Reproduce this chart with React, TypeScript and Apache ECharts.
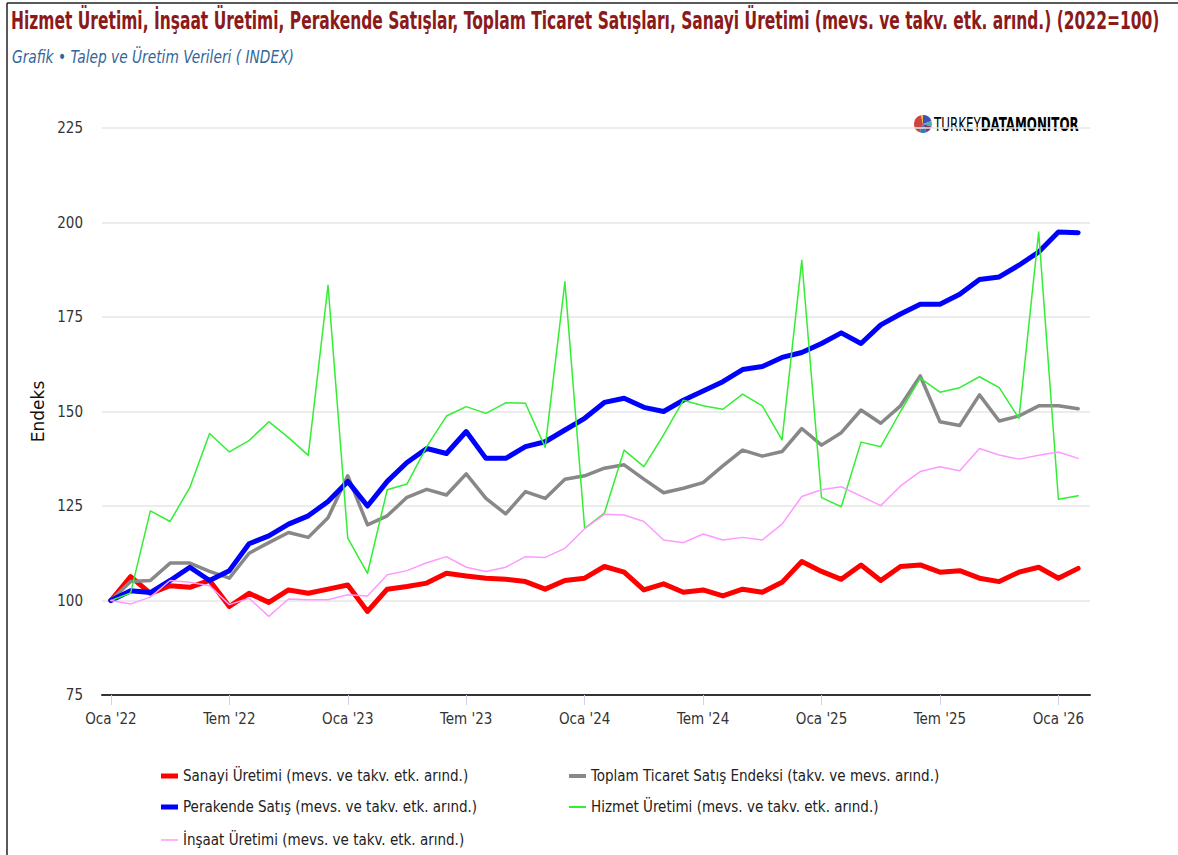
import React, { useEffect, useRef } from "react";
import * as echarts from "echarts";

const months: string[] = [];
const monthNames = ["Oca", "Şub", "Mar", "Nis", "May", "Haz", "Tem", "Ağu", "Eyl", "Eki", "Kas", "Ara"];
const years = ["22", "23", "24", "25", "26"];
years.forEach((y) => monthNames.forEach((m) => months.push(`${m} '${y}`)));
const categories = months.slice(0, 50);

const tickIndices = [0, 6, 12, 18, 24, 30, 36, 42, 48];

const sanayi = [100, 106.3, 101.9, 103.9, 103.5, 105.3, 98.4, 101.9, 99.5, 102.8, 101.9, 103, 104.1, 97.1, 103, 103.7, 104.6, 107.2, 106.5, 105.9, 105.6, 105, 103, 105.3, 105.9, 109, 107.5, 102.8, 104.4, 102.2, 102.8, 101.2, 103, 102.2, 104.8, 110.3, 107.7, 105.6, 109.4, 105.3, 109, 109.4, 107.5, 107.9, 105.9, 105, 107.5, 108.8, 105.9, 108.5];
const toplam = [100, 105, 105.3, 109.9, 109.9, 107.7, 105.9, 112.5, 115.3, 118, 116.7, 121.9, 133, 120, 122.4, 127.3, 129.4, 127.9, 133.5, 127, 122.9, 128.8, 127, 132.1, 133, 135, 135.9, 132.1, 128.5, 129.7, 131.2, 135.6, 139.8, 138.2, 139.4, 145.5, 141.1, 144.4, 150.4, 146.9, 151.5, 159.4, 147.3, 146.3, 154.4, 147.5, 148.8, 151.5, 151.5, 150.7];
const perakende = [100, 102.6, 102.1, 105.3, 108.8, 105.3, 107.9, 115, 117.1, 120.2, 122.4, 126.2, 131.5, 125, 131.5, 136.5, 140.2, 138.9, 144.7, 137.6, 137.6, 140.7, 142, 145.1, 148.2, 152.4, 153.5, 151.1, 150, 153, 155.4, 157.9, 161.1, 161.9, 164.3, 165.6, 168, 170.8, 168, 172.9, 175.8, 178.4, 178.4, 181, 184.9, 185.6, 188.7, 192.2, 197.5, 197.3];
const hizmet = [100, 102, 123.7, 120.9, 129.9, 144.2, 139.3, 142.3, 147.3, 143.1, 138.4, 183.4, 116.5, 107.2, 129.3, 130.8, 140.7, 148.8, 151.3, 149.5, 152.3, 152.2, 140.5, 184.3, 119.1, 123.1, 139.8, 135.4, 143.8, 153, 151.5, 150.6, 154.6, 151.5, 142.5, 190, 127.2, 124.8, 141.9, 140.7, 150, 158.8, 155.1, 156.3, 159.2, 156.3, 148.2, 197.5, 126.8, 127.7];
const insaat = [100, 99.1, 100.9, 105.3, 104.8, 103.9, 98.9, 100.6, 95.8, 100.4, 100.2, 100.2, 101.5, 101.2, 106.8, 107.9, 110, 111.6, 108.8, 107.7, 108.8, 111.6, 111.4, 113.8, 119, 122.8, 122.6, 120.9, 116, 115.3, 117.6, 116, 116.7, 116, 120.2, 127.5, 129.3, 130.1, 127.6, 125.1, 130.3, 134.1, 135.4, 134.3, 140.2, 138.5, 137.4, 138.4, 139.3, 137.6];

const seriesNames = [
  "Sanayi Üretimi (mevs. ve takv. etk. arınd.)",
  "Toplam Ticaret Satış Endeksi (takv. ve mevs. arınd.)",
  "Perakende Satış (mevs. ve takv. etk. arınd.)",
  "Hizmet Üretimi (mevs. ve takv. etk. arınd.)",
  "İnşaat Üretimi (mevs. ve takv. etk. arınd.)",
];
const seriesValues = [sanayi, toplam, perakende, hizmet, insaat];

const titleText = "Hizmet Üretimi, İnşaat Üretimi, Perakende Satışlar, Toplam Ticaret Satışları, Sanayi Üretimi (mevs. ve takv. etk. arınd.) (2022=100)";
const subtitleText = "Grafik • Talep ve Üretim Verileri ( INDEX)";
const yAxisName = "Endeks";

const COND = "'DejaVu Sans Condensed', 'DejaVu Sans', sans-serif";

export default function App() {
  const ref = useRef<HTMLDivElement>(null);
  useEffect(() => {
    if (!ref.current) return;
    const chart = echarts.init(ref.current, null, { renderer: "svg" });
    const colors = ["#ff0000", "#888888", "#0000ff", "#33ee33", "#ff99ff"];
    const widths = [5, 3.5, 5, 1.5, 1.5];
    const iconH = [5, 4, 5, 2, 1.5];
    const legendPos = [
      { left: 161, top: 766 },
      { left: 569, top: 766 },
      { left: 161, top: 797 },
      { left: 569, top: 797 },
      { left: 161, top: 830 },
    ];
    const option: any = {
      animation: false,
      backgroundColor: "#ffffff",
      grid: { left: 102, right: 88, top: 128, bottom: 160 },
      xAxis: {
        type: "value",
        min: -0.45,
        max: 49.6,
        splitLine: { show: false },
        axisLine: { show: true, lineStyle: { color: "#333333", width: 2 } },
        axisTick: { show: true, customValues: tickIndices, length: 10, lineStyle: { color: "#ccd6eb", width: 1 } },
        axisLabel: {
          customValues: tickIndices,
          formatter: (v: number) => categories[Math.round(v)] ?? "",
          color: "#333333",
          fontSize: 15,
          fontFamily: COND,
          margin: 16,
        },
      },
      yAxis: {
        type: "value",
        min: 75,
        max: 225,
        interval: 25,
        name: yAxisName,
        nameLocation: "middle",
        nameGap: 56,
        nameTextStyle: { color: "#111111", fontSize: 17, fontFamily: "'DejaVu Sans', sans-serif" },
        axisLine: { show: false },
        axisTick: { show: false },
        axisLabel: { color: "#333333", fontSize: 15, fontFamily: COND, margin: 19 },
        splitLine: { lineStyle: { color: "#e6e6e6", width: 1.5 } },
      },
      legend: seriesNames.map((n, i) => ({
        data: [n],
        left: legendPos[i].left,
        top: legendPos[i].top,
        padding: 0,
        icon: "rect",
        itemWidth: 17,
        itemHeight: iconH[i],
        selectedMode: false,
        textStyle: { color: "#222222", fontSize: 15, fontFamily: COND, lineHeight: 20 },
      })),
      series: seriesNames.map((n, i) => ({
        name: n,
        type: "line",
        color: colors[i],
        showSymbol: false,
        symbol: "none",
        z: 2 + i,
        lineStyle: { color: colors[i], width: widths[i], join: "round", cap: "round" },
        data: seriesValues[i].map((v, k) => [k, v]),
      })),
      graphic: [
        { type: "line", shape: { x1: 7, y1: 3, x2: 7, y2: 855 }, style: { stroke: "#222", lineWidth: 1.5 } },
        { type: "line", shape: { x1: 7, y1: 3, x2: 1178, y2: 3 }, style: { stroke: "#222", lineWidth: 1.5 } },
        {
          type: "text",
          x: 11,
          y: 21,
          scaleX: 0.783,
          scaleY: 1.1,
          style: {
            text: titleText,
            verticalAlign: "middle",
            fill: "#8b1a1a",
            fontSize: 22,
            fontWeight: "bold",
            fontFamily: COND,
          },
        },
        {
          type: "text",
          x: 12,
          y: 57,
          scaleX: 0.9,
          scaleY: 1.05,
          style: {
            text: subtitleText,
            verticalAlign: "middle",
            fill: "#336699",
            fontSize: 17,
            fontStyle: "italic",
            fontFamily: COND,
          },
        },
        {
          type: "group",
          left: 914,
          top: 114,
          children: [
            { type: "sector", shape: { cx: 9, cy: 10, r: 9, startAngle: -Math.PI / 2, endAngle: -0.35 }, style: { fill: "#3f4fc0" } },
            { type: "sector", shape: { cx: 9, cy: 10, r: 9, startAngle: -0.35, endAngle: 0.3 }, style: { fill: "#4bb89a" } },
            { type: "sector", shape: { cx: 9, cy: 10, r: 9, startAngle: 0.3, endAngle: 1.15 }, style: { fill: "#7b2f7d" } },
            { type: "sector", shape: { cx: 9, cy: 10, r: 9, startAngle: 1.15, endAngle: 1.95 }, style: { fill: "#2680b8" } },
            { type: "sector", shape: { cx: 9, cy: 10, r: 9, startAngle: 1.95, endAngle: 4.5 }, style: { fill: "#cc4444" } },
            { type: "sector", shape: { cx: 9, cy: 10, r: 9, startAngle: 4.5, endAngle: 4.712 }, style: { fill: "#e8c020" } },
            {
              type: "text",
              x: 20,
              y: 10,
              scaleX: 0.66,
              style: {
                text: "{a|TURKEY}{b|DATA}{c|MONITOR}",
                verticalAlign: "middle",
                rich: {
                  a: { fontSize: 20, fontFamily: COND, color: "#666666", fontWeight: "normal" },
                  b: { fontSize: 20, fontFamily: COND, color: "#333333", fontWeight: "bold" },
                  c: { fontSize: 20, fontFamily: COND, color: "#111111", fontWeight: "bold" },
                },
              },
            },
          ],
        },
      ],
    };
    chart.setOption(option);
    return () => chart.dispose();
  }, []);
  return <div ref={ref} style={{ position: "absolute", left: 0, top: 0, width: 1178, height: 855 }} />;
}
